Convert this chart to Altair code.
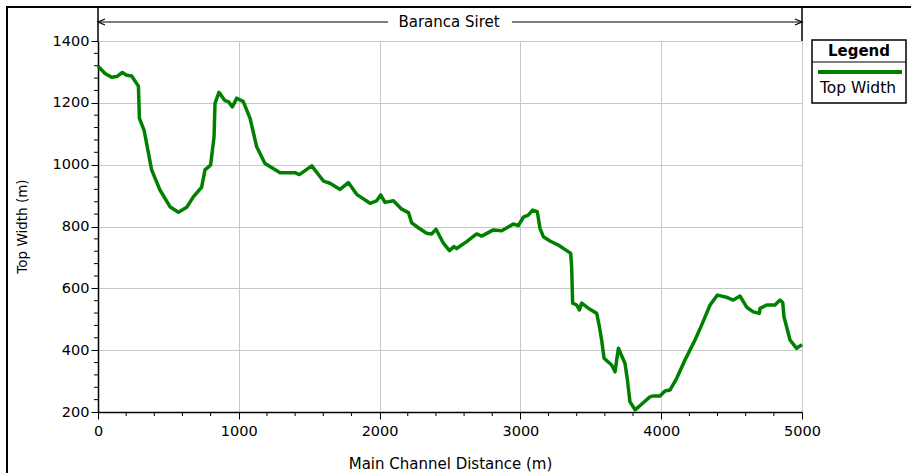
import altair as alt
import pandas as pd

FONT = "DejaVu Sans"
GREEN = "#008000"

# Top width profile along the main channel
distance_m = [0, 50, 97, 133, 173, 204, 239, 287, 294, 327, 381, 440, 511, 571, 630,
              677, 736, 760, 800, 824, 831, 859, 902, 926, 954, 985, 1032, 1080, 1127,
              1186, 1293, 1399, 1430, 1518, 1601, 1648, 1719, 1778, 1837, 1932, 1979,
              2008, 2038, 2098, 2157, 2205, 2228, 2275, 2334, 2370, 2401, 2453, 2496,
              2528, 2547, 2618, 2689, 2725, 2808, 2867, 2950, 2985, 3021, 3056, 3087,
              3120, 3139, 3163, 3210, 3269, 3329, 3357, 3364, 3371, 3400, 3419, 3435,
              3494, 3542, 3561, 3577, 3594, 3648, 3672, 3696, 3743, 3760, 3778, 3815,
              3860, 3920, 3944, 3991, 4027, 4062, 4110, 4169, 4205, 4240, 4287, 4347,
              4399, 4465, 4512, 4560, 4607, 4654, 4697, 4702, 4749, 4808, 4844, 4863,
              4872, 4915, 4962, 5000]
top_width_m = [1318, 1295, 1283, 1285, 1298, 1289, 1287, 1254, 1150, 1112, 983, 918, 864,
               846, 862, 896, 927, 983, 999, 1090, 1198, 1234, 1207, 1204, 1187, 1215,
               1204, 1150, 1058, 1004, 974, 974, 968, 996, 947, 940, 920, 942, 904, 875,
               883, 902, 878, 883, 856, 845, 812, 796, 778, 776, 791, 746, 722, 735, 729,
               751, 776, 769, 789, 786, 808, 803, 830, 837, 853, 848, 794, 767, 753, 740,
               722, 713, 670, 552, 546, 530, 552, 532, 519, 476, 433, 374, 352, 330, 406,
               357, 304, 233, 207, 225, 249, 252, 252, 268, 271, 309, 368, 401, 433, 481,
               546, 578, 571, 562, 575, 539, 524, 519, 535, 546, 546, 562, 554, 508, 433,
               406, 418]

x_major_ticks = [0, 1000, 2000, 3000, 4000, 5000]
x_minor_ticks = [200, 400, 600, 800, 1200, 1400, 1600, 1800, 2200, 2400, 2600, 2800,
                 3200, 3400, 3600, 3800, 4200, 4400, 4600, 4800]
y_major_ticks = [200, 400, 600, 800, 1000, 1200, 1400]
y_minor_ticks = [240, 280, 320, 360, 440, 480, 520, 560, 640, 680, 720, 760, 840, 880,
                 920, 960, 1040, 1080, 1120, 1160, 1240, 1280, 1320, 1360]

reach_name = "Baranca Siret"
series_name = "Top Width"

W, H = 704, 371

profile = pd.DataFrame({"distance": distance_m, "width": top_width_m})

x_scale = alt.Scale(domain=[0, 5000], nice=False, zero=False)
y_scale = alt.Scale(domain=[200, 1400], nice=False, zero=False)

x_axis = alt.Axis(
    values=x_major_ticks, format="d", title="Main Channel Distance (m)",
    grid=True, gridColor="#c8c8c8", gridWidth=1, labelFlush=False,
    domainColor="black", domainWidth=1.5, tickColor="black", tickSize=7, tickWidth=1,
    labelFont=FONT, labelFontSize=14.5, labelColor="black", labelPadding=5,
    titleFont=FONT, titleFontSize=15, titleFontWeight="normal", titleColor="black",
    titleX=352, titleY=51, titleBaseline="middle", titleAlign="center",
)
y_axis = alt.Axis(
    values=y_major_ticks, format="d", title="Top Width (m)",
    grid=True, gridColor="#c8c8c8", gridWidth=1, labelFlush=False,
    domainColor="black", domainWidth=1.5, tickColor="black", tickSize=7, tickWidth=1,
    labelFont=FONT, labelFontSize=14.5, labelColor="black", labelPadding=2,
    labelBaseline="middle",
    titleFont=FONT, titleFontSize=13.5, titleFontWeight="normal", titleColor="black",
    titleX=-76, titleY=185, titleAngle=270, titleBaseline="middle", titleAlign="center",
)

line = alt.Chart(profile).mark_line(color=GREEN, strokeWidth=3.5, strokeJoin="round").encode(
    x=alt.X("distance:Q", scale=x_scale, axis=x_axis),
    y=alt.Y("width:Q", scale=y_scale, axis=y_axis),
)

# minor ticks share the main scales (and the axes defined on the profile layer)
x_minor = alt.Chart(pd.DataFrame({"distance": x_minor_ticks})).mark_rule(
    color="black", strokeWidth=1
).encode(
    x=alt.X("distance:Q", scale=x_scale),
    y=alt.value(H), y2=alt.value(H + 4),
)

y_minor = alt.Chart(pd.DataFrame({"width": y_minor_ticks})).mark_rule(
    color="black", strokeWidth=1
).encode(
    y=alt.Y("width:Q", scale=y_scale),
    x=alt.value(-4), x2=alt.value(0),
)

one = pd.DataFrame({"k": [0]})


def seg(x1, y1, x2, y2, color="black", width=1.5):
    return alt.Chart(one).mark_rule(color=color, strokeWidth=width).encode(
        x=alt.value(x1), x2=alt.value(x2), y=alt.value(y1), y2=alt.value(y2)
    )


def label(text, x, y, size, bold=False):
    return alt.Chart(one).mark_text(
        text=text, font=FONT, fontSize=size, fontWeight="bold" if bold else "normal",
        color="black", align="center", baseline="middle",
    ).encode(x=alt.value(x), y=alt.value(y))


def chevron(x, y, path):
    return alt.Chart(one).mark_point(
        shape=path, size=49, filled=False, color="black", strokeWidth=1.2, opacity=1
    ).encode(x=alt.value(x), y=alt.value(y))


# outer frame, axis extension and reach bracket
frame = [
    seg(-92, -34, 820, -34, width=2),
    seg(-91, -35, -91, 440, width=2),
    seg(0, -34, 0, 0),
    seg(W, -34, W, 0),
    seg(0, -19, 290, -19, width=1.2),
    seg(414, -19, W, -19, width=1.2),
    chevron(3.5, -19, "M 1 -0.85 L -1 0 L 1 0.85"),
    chevron(W - 3.5, -19, "M -1 -0.85 L 1 0 L -1 0.85"),
    label(reach_name, 351, -19, 15),
]

# legend box
legend_box = alt.Chart(one).mark_rect(
    fill="white", stroke="black", strokeWidth=1.5
).encode(x=alt.value(714), x2=alt.value(808), y=alt.value(-1), y2=alt.value(62))
legend = [
    legend_box,
    seg(714, 21, 808, 21, width=1.2),
    seg(720, 31, 804, 31, color=GREEN, width=4),
    label("Legend", 761, 9.5, 15, bold=True),
    label(series_name, 760, 46.5, 15.5),
]

chart = alt.layer(line, x_minor, y_minor, *frame, *legend).properties(
    width=W, height=H,
    autosize=alt.AutoSizeParams(type="none"),
    padding={"left": 98, "top": 41, "right": 109, "bottom": 61},
    background="white",
).configure_view(stroke=None)

chart.save("out.html", embed_options={"renderer": "svg", "actions": False})
